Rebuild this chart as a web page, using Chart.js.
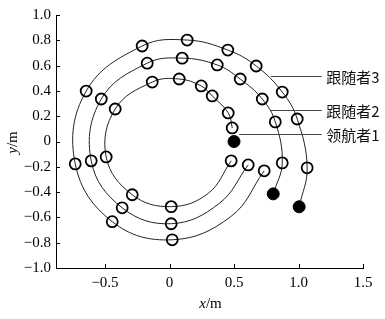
<!DOCTYPE html>
<html>
<head>
<meta charset="utf-8">
<script src="https://cdn.jsdelivr.net/npm/chart.js@4/dist/chart.umd.min.js"></script>
<style>
  html, body { margin: 0; padding: 0; background: #fff; }
  #wrap { width: 385px; height: 319px; position: relative; }
</style>
</head>
<body>
<div id="wrap"><canvas id="c" width="385" height="319"></canvas></div>
<script>
// ---- data ----
const seriesNames = ['领航者1', '跟随者2', '跟随者3'];

// index 0 of each series is the start position (black dot);
// *Marker = 1 where the reference draws an open circle, 0 for a plain point read on the curve
const leaderX = [0.50, 0.486, 0.455, 0.331, 0.246, 0.075, -0.134, -0.421, -0.491, -0.289, 0.013, 0.30, 0.478];
const leaderY = [0.00, 0.107, 0.226, 0.360, 0.439, 0.494, 0.470, 0.257, -0.122, -0.421, -0.515, -0.41, -0.153];
const leaderMarker = [1, 1, 1, 1, 1, 1, 1, 1, 1, 1, 1, 0, 1];

const follower2X = [0.804, 0.874, 0.820, 0.719, 0.548, 0.370, 0.098, -0.173, -0.529, -0.607, -0.367, 0.013, 0.385, 0.610];
const follower2Y = [-0.414, -0.169, 0.155, 0.336, 0.494, 0.605, 0.659, 0.619, 0.336, -0.153, -0.524, -0.650, -0.49, -0.185];
const follower2Marker = [1, 1, 1, 1, 1, 1, 1, 1, 1, 1, 1, 1, 0, 1];

const follower3X = [1.005, 1.067, 0.990, 0.874, 0.672, 0.452, 0.137, -0.212, -0.646, -0.731, -0.444, 0.021, 0.476, 0.734];
const follower3Y = [-0.516, -0.208, 0.178, 0.391, 0.597, 0.723, 0.802, 0.755, 0.399, -0.177, -0.634, -0.777, -0.593, -0.232];
const follower3Marker = [1, 1, 1, 1, 1, 1, 1, 1, 1, 1, 1, 1, 0, 1];

const xTickValues = [-0.5, 0, 0.5, 1.0, 1.5];
const xTickLabels = ['−0.5', '0', '0.5', '1.0', '1.5'];
const yTickValues = [-1.0, -0.8, -0.6, -0.4, -0.2, 0, 0.2, 0.4, 0.6, 0.8, 1.0];
const yTickLabels = ['−1.0', '−0.8', '−0.6', '−0.4', '−0.2', '0', '0.2', '0.4', '0.6', '0.8', '1.0'];

// label call-outs (order: 跟随者3, 跟随者2, 领航者1)
const calloutText = ['跟随者3', '跟随者2', '领航者1'];
const calloutY = [0.518, 0.249, 0.06];
const calloutStartX = [0.786, 0.778, 0.54];

// ---- chart ----
const toPts = (xs, ys) => xs.map((x, i) => ({ x: x, y: ys[i] }));
const serif = '"Liberation Serif", "Times New Roman", serif';

function seriesDataset(xs, ys, marks, hideFirstSegment) {
  return {
    data: toPts(xs, ys),
    showLine: true,
    tension: 0.4,
    borderColor: '#222',
    borderWidth: 1,
    pointRadius: ctx => ctx.dataIndex === 0 ? 6 : (marks[ctx.dataIndex] ? 5.5 : 0),
    pointBackgroundColor: ctx => ctx.dataIndex === 0 ? '#000' : 'rgba(0,0,0,0)',
    pointBorderColor: '#000',
    pointBorderWidth: ctx => ctx.dataIndex === 0 ? 1 : 1.8,
    segment: {
      borderColor: ctx => (hideFirstSegment && ctx.p0DataIndex === 0) ? 'rgba(0,0,0,0)' : '#222'
    }
  };
}

const decor = {
  id: 'decor',
  afterDraw(chart) {
    const ctx = chart.ctx;
    const xs = chart.scales.x, ys = chart.scales.y;
    const area = chart.chartArea;
    ctx.save();
    // inward ticks
    ctx.strokeStyle = '#000';
    ctx.lineWidth = 1;
    ctx.beginPath();
    yTickValues.forEach(v => {
      const py = Math.round(ys.getPixelForValue(v)) + 0.5;
      ctx.moveTo(area.left, py); ctx.lineTo(area.left + 4, py);
    });
    xTickValues.forEach(v => {
      const px = Math.round(xs.getPixelForValue(v)) + 0.5;
      ctx.moveTo(px, area.bottom); ctx.lineTo(px, area.bottom - 4);
    });
    ctx.stroke();

    // call-outs
    ctx.strokeStyle = '#444';
    ctx.lineWidth = 1.2;
    ctx.fillStyle = '#111';
    ctx.font = '15px "Noto Sans CJK SC", sans-serif';
    ctx.textBaseline = 'middle';
    ctx.textAlign = 'left';
    const endPx = xs.getPixelForValue(1.18);
    const textPx = xs.getPixelForValue(1.215);
    calloutText.forEach((t, i) => {
      const py = Math.round(ys.getPixelForValue(calloutY[i])) + 0.5;
      ctx.beginPath();
      ctx.moveTo(xs.getPixelForValue(calloutStartX[i]), py);
      ctx.lineTo(endPx, py);
      ctx.stroke();
      ctx.fillText(t, textPx, py + 1);
    });

    // axis titles with italic variable
    ctx.fillStyle = '#000';
    ctx.textBaseline = 'middle';
    const drawTitle = (sym, cx, cy) => {
      ctx.font = 'italic 15px ' + serif;
      const w1 = ctx.measureText(sym).width;
      ctx.font = '15px ' + serif;
      const w2 = ctx.measureText('/m').width;
      const start = cx - (w1 + w2) / 2;
      ctx.font = 'italic 15px ' + serif;
      ctx.textAlign = 'left';
      ctx.fillText(sym, start, cy);
      ctx.font = '15px ' + serif;
      ctx.fillText('/m', start + w1, cy);
    };
    drawTitle('x', (area.left + area.right) / 2 + 1, 304);
    ctx.translate(13, (area.top + area.bottom) / 2 + 1);
    ctx.rotate(-Math.PI / 2);
    drawTitle('y', 0, 0);
    ctx.restore();
  }
};

new Chart(document.getElementById('c'), {
  type: 'scatter',
  data: {
    datasets: [
      Object.assign(seriesDataset(leaderX, leaderY, leaderMarker, true), { label: seriesNames[0] }),
      Object.assign(seriesDataset(follower2X, follower2Y, follower2Marker, false), { label: seriesNames[1] }),
      Object.assign(seriesDataset(follower3X, follower3Y, follower3Marker, false), { label: seriesNames[2] })
    ]
  },
  options: {
    responsive: false,
    animation: false,
    devicePixelRatio: 1,
    layout: { padding: { top: 15, right: 22, left: 0, bottom: 0 } },
    plugins: { legend: { display: false }, tooltip: { enabled: false } },
    scales: {
      x: {
        type: 'linear',
        min: -0.88, max: 1.5,
        afterBuildTicks: s => { s.ticks = xTickValues.map(v => ({ value: v })); },
        afterFit: s => { s.height = 51; },
        grid: { display: false, drawTicks: false },
        border: { display: true, color: '#000', width: 1 },
        ticks: {
          autoSkip: false, maxRotation: 0, padding: 6, color: '#000',
          font: { family: serif, size: 15 },
          callback: (v, i) => xTickLabels[i]
        }
      },
      y: {
        type: 'linear',
        min: -1, max: 1,
        afterBuildTicks: s => { s.ticks = yTickValues.map(v => ({ value: v })); },
        afterFit: s => { s.width = 56; },
        grid: { display: false, drawTicks: false },
        border: { display: true, color: '#000', width: 1 },
        ticks: {
          autoSkip: false, padding: 5, color: '#000',
          font: { family: serif, size: 15 },
          callback: (v, i) => yTickLabels[i]
        }
      }
    }
  },
  plugins: [decor]
});
</script>
</body>
</html>
